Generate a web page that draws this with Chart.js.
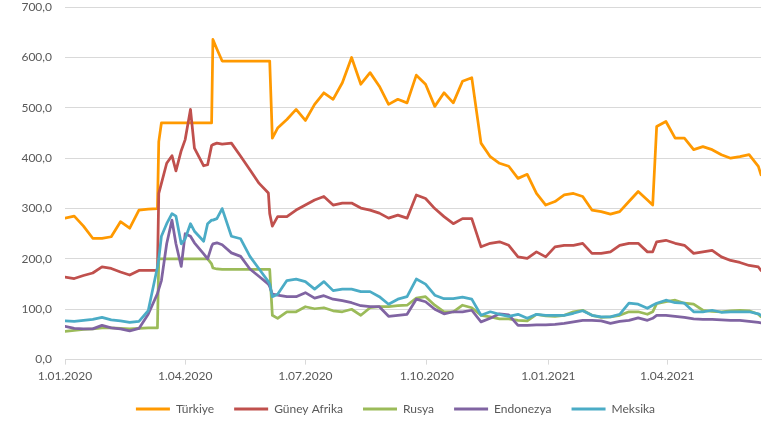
<!DOCTYPE html>
<html>
<head>
<meta charset="utf-8">
<script src="https://cdn.jsdelivr.net/npm/chart.js@4.4.1/dist/chart.umd.min.js"></script>
<style>
  html, body { margin: 0; padding: 0; background: #fff; }
</style>
</head>
<body>
<canvas id="cds" width="769" height="425"></canvas>
<script>
// sampled dates (weekly, plus extra points around the jumps)
const dates = [
  "2020-01-01", "2020-01-08", "2020-01-15", "2020-01-22", "2020-01-29", "2020-02-05", "2020-02-12", "2020-02-19", "2020-02-26", "2020-03-04",
  "2020-03-11", "2020-03-12", "2020-03-14", "2020-03-18", "2020-03-22", "2020-03-25", "2020-03-29", "2020-04-01", "2020-04-05", "2020-04-08",
  "2020-04-15", "2020-04-18", "2020-04-21", "2020-04-22", "2020-04-25", "2020-04-29", "2020-05-06", "2020-05-13", "2020-05-20", "2020-05-27",
  "2020-06-03", "2020-06-04", "2020-06-06", "2020-06-10", "2020-06-17", "2020-06-24", "2020-07-01", "2020-07-08", "2020-07-15", "2020-07-22",
  "2020-07-29", "2020-08-05", "2020-08-12", "2020-08-19", "2020-08-26", "2020-09-02", "2020-09-09", "2020-09-16", "2020-09-23", "2020-09-30",
  "2020-10-07", "2020-10-14", "2020-10-21", "2020-10-28", "2020-11-04", "2020-11-11", "2020-11-18", "2020-11-25", "2020-12-02", "2020-12-09",
  "2020-12-16", "2020-12-23", "2020-12-30", "2021-01-06", "2021-01-13", "2021-01-20", "2021-01-27", "2021-02-03", "2021-02-10", "2021-02-17",
  "2021-02-24", "2021-03-03", "2021-03-10", "2021-03-17", "2021-03-21", "2021-03-24", "2021-03-31", "2021-04-07", "2021-04-14", "2021-04-21",
  "2021-04-28", "2021-05-05", "2021-05-12", "2021-05-19", "2021-05-26", "2021-06-02", "2021-06-09", "2021-06-11"
];

const turkiye = [
  281, 285, 265, 241, 241, 244, 274, 261, 297, 299,
  300, 433, 470, 470, 470, 470, 470, 470, 470, 470,
  470, 470, 470, 636, 617, 593, 593, 593, 593, 593,
  593, 593, 440, 460, 477, 497, 475, 507, 530, 517,
  550, 600, 547, 570, 543, 507, 517, 510, 565, 547,
  503, 530, 510, 553, 560, 430, 403, 390, 384, 360,
  368, 330, 307, 314, 327, 330, 324, 297, 294, 289,
  294, 314, 334, 317, 307, 463, 473, 440, 440, 417,
  423, 417, 407, 400, 403, 407, 384, 367
];

const guneyAfrika = [
  164, 161, 167, 172, 184, 181, 174, 168, 177, 177,
  177, 330, 350, 390, 405, 375, 415, 437, 497, 420,
  385, 387, 425, 427, 430, 428, 430, 404, 377, 350,
  331, 290, 265, 284, 284, 297, 307, 317, 324, 307,
  311, 311, 301, 297, 291, 281, 287, 281, 327, 320,
  300, 284, 270, 280, 280, 224, 231, 234, 227, 204,
  201, 214, 204, 224, 227, 227, 231, 211, 211, 214,
  227, 231, 231, 214, 214, 234, 237, 231, 227, 211,
  214, 217, 204, 197, 193, 187, 184, 177
];

const rusya = [
  56, 58, 60, 61, 63, 63, 62, 61, 62, 63,
  63, 200, 200, 200, 200, 200, 200, 200, 200, 200,
  200, 200, 190, 182, 180, 179, 179, 179, 179, 179,
  179, 179, 88, 82, 95, 95, 105, 101, 103, 97,
  95, 100, 88, 103, 105, 105, 107, 108, 122, 125,
  108, 95, 95, 108, 103, 88, 85, 81, 81, 78,
  77, 90, 87, 86, 88, 95, 98, 88, 84, 85,
  88, 95, 95, 90, 95, 111, 115, 118, 112, 110,
  98, 96, 95, 97, 98, 97, 90, 85
];

const endonezya = [
  66, 62, 61, 61, 68, 63, 61, 57, 62, 90,
  131, 140, 157, 230, 277, 230, 185, 250, 245, 232,
  210, 200, 225, 230, 232, 228, 212, 205, 180, 165,
  150, 145, 130, 128, 125, 125, 133, 122, 127, 120,
  117, 113, 107, 105, 105, 86, 88, 90, 120, 115,
  100, 91, 95, 95, 98, 75, 82, 91, 89, 68,
  68, 69, 69, 70, 72, 75, 78, 78, 77, 72,
  76, 78, 83, 78, 82, 88, 88, 86, 84, 81,
  80, 80, 79, 78, 78, 76, 74, 73
];

const meksika = [
  77, 76, 78, 80, 84, 79, 77, 74, 76, 97,
  184, 200, 245, 270, 290, 285, 230, 240, 270, 255,
  235, 270, 277, 277, 280, 300, 245, 240, 205, 180,
  155, 150, 125, 130, 157, 160, 155, 140, 155, 137,
  140, 140, 135, 135, 125, 110, 120, 125, 160, 150,
  128, 121, 121, 124, 120, 88, 95, 90, 86, 90,
  82, 90, 88, 88, 88, 92, 97, 88, 85, 85,
  90, 112, 110, 102, 108, 112, 118, 113, 112, 95,
  95, 98, 94, 95, 95, 95, 91, 88
];

const seriesNames = ["Türkiye", "Güney Afrika", "Rusya", "Endonezya", "Meksika"];
const seriesColors = ["#ff9900", "#c0504d", "#9bbb59", "#8064a2", "#4bacc6"];
const tickDates = ["2020-01-01", "2020-04-01", "2020-07-01", "2020-10-01", "2021-01-01", "2021-04-01"];
const tickLabels = ["1.01.2020", "1.04.2020", "1.07.2020", "1.10.2020", "1.01.2021", "1.04.2021"];

const start = Date.UTC(2020, 0, 1);
function dayOf(s) {
  const p = s.split("-");
  return (Date.UTC(+p[0], +p[1] - 1, +p[2]) - start) / 86400000;
}
const xs = dates.map(dayOf);
const tickDays = tickDates.map(dayOf);

const allValues = [turkiye, guneyAfrika, rusya, endonezya, meksika];

Chart.defaults.font.family = "Lato, 'Liberation Sans', sans-serif";
Chart.defaults.font.size = 12;
Chart.defaults.color = "#595959";

// nudge the legend a bit to the right, like the original
const legendShift = {
  id: "legendShift",
  afterLayout: function (c) {
    c.legend.left += 15;
    c.legend.right += 15;
  },
};

var ctx = document.getElementById("cds").getContext("2d");
var chart = new Chart(ctx, {
  type: "line",
  data: {
    datasets: allValues.map(function (vals, i) {
      return {
        label: seriesNames[i],
        data: vals.map(function (v, j) { return { x: xs[j], y: v }; }),
        borderColor: seriesColors[i],
        backgroundColor: seriesColors[i],
        order: allValues.length - i,
      };
    }),
  },
  plugins: [legendShift],
  options: {
    responsive: false,
    animation: false,
    layout: { padding: { left: 0, right: 8, top: 4, bottom: 0 } },
    elements: {
      point: { radius: 0 },
      line: { borderWidth: 2.75, tension: 0, borderJoinStyle: "round", borderCapStyle: "round" },
    },
    plugins: {
      tooltip: { enabled: false },
      legend: {
        position: "bottom",
        labels: {
          boxWidth: 34,
          boxHeight: 3,
          padding: 20,
          sort: function (a, b) { return a.datasetIndex - b.datasetIndex; },
          generateLabels: function (c) {
            return Chart.defaults.plugins.legend.labels.generateLabels(c).map(function (l) {
              l.lineWidth = 0;
              return l;
            });
          },
        },
      },
    },
    scales: {
      x: {
        type: "linear",
        min: 0,
        max: xs[xs.length - 1],
        afterBuildTicks: function (s) {
          s.ticks = tickDays.map(function (v) { return { value: v }; });
        },
        ticks: {
          autoSkip: false,
          maxRotation: 0,
          padding: 4,
          callback: function (v) { return tickLabels[tickDays.indexOf(v)]; },
        },
        grid: { drawOnChartArea: false, drawTicks: true, tickLength: 5, color: "#d9d9d9" },
        border: { color: "#d9d9d9" },
        afterFit: function (s) { s.height -= 4; },
      },
      y: {
        min: 0,
        max: 700,
        ticks: {
          stepSize: 100,
          padding: 0,
          callback: function (v) { return v.toFixed(1).replace(".", ","); },
        },
        grid: { color: "#d9d9d9", drawTicks: true, tickLength: 13, tickColor: "rgba(0,0,0,0)" },
        border: { display: false },
        afterFit: function (s) { s.width = 65; },
      },
    },
  },
});
</script>
</body>
</html>
